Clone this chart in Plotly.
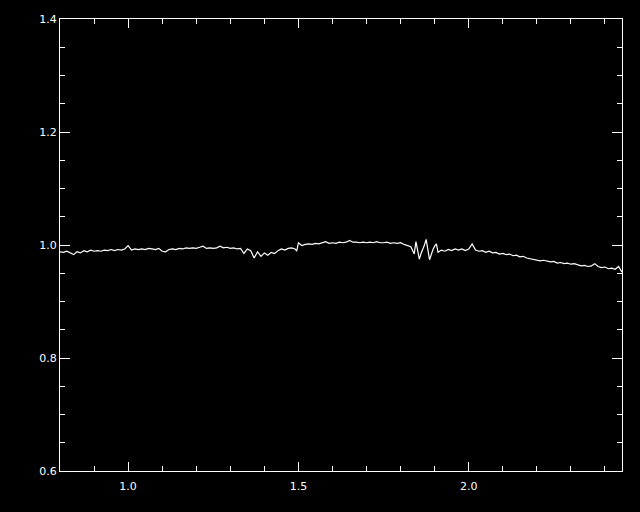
import plotly.graph_objects as go

wavelength = [
    0.80, 0.81, 0.82, 0.83, 0.84, 0.85, 0.86, 0.87, 0.88, 0.89,
    0.90, 0.91, 0.92, 0.93, 0.94, 0.95, 0.96, 0.97, 0.98, 0.99,
    1.00, 1.01, 1.02, 1.03, 1.04, 1.05, 1.06, 1.07, 1.08, 1.09,
    1.10, 1.11, 1.12, 1.13, 1.14, 1.15, 1.16, 1.17, 1.18, 1.19,
    1.20, 1.21, 1.22, 1.23, 1.24, 1.25, 1.26, 1.27, 1.28, 1.29,
    1.30, 1.31, 1.32, 1.33, 1.34, 1.35, 1.36, 1.37, 1.38, 1.39,
    1.40, 1.41, 1.42, 1.43, 1.44, 1.45, 1.46, 1.47, 1.48, 1.49,
    1.495, 1.50, 1.51, 1.52, 1.53, 1.54, 1.55, 1.56, 1.57, 1.58,
    1.59, 1.60, 1.61, 1.62, 1.63, 1.64, 1.65, 1.66, 1.67, 1.68,
    1.69, 1.70, 1.71, 1.72, 1.73, 1.74, 1.75, 1.76, 1.77, 1.78,
    1.79, 1.80, 1.81, 1.82, 1.83, 1.84, 1.845, 1.855, 1.86, 1.87,
    1.875, 1.885, 1.89, 1.895, 1.90, 1.905, 1.91, 1.92, 1.93, 1.94,
    1.95, 1.96, 1.97, 1.98, 1.99, 2.00, 2.01, 2.02, 2.03, 2.04,
    2.05, 2.06, 2.07, 2.08, 2.09, 2.10, 2.11, 2.12, 2.13, 2.14,
    2.15, 2.16, 2.17, 2.18, 2.19, 2.20, 2.21, 2.22, 2.23, 2.24,
    2.25, 2.26, 2.27, 2.28, 2.29, 2.30, 2.31, 2.32, 2.33, 2.34,
    2.35, 2.36, 2.37, 2.38, 2.39, 2.40, 2.41, 2.42, 2.43, 2.44,
    2.445, 2.45,
]

flux = [
    0.988, 0.987, 0.989, 0.986, 0.983, 0.988, 0.986, 0.990, 0.988, 0.991,
    0.989, 0.990, 0.989, 0.991, 0.990, 0.992, 0.990, 0.992, 0.991, 0.993,
    0.999, 0.991, 0.993, 0.992, 0.993, 0.992, 0.994, 0.993, 0.992, 0.994,
    0.989, 0.988, 0.992, 0.993, 0.992, 0.994, 0.993, 0.995, 0.994, 0.995,
    0.994, 0.996, 0.998, 0.994, 0.995, 0.994, 0.995, 0.998, 0.995, 0.996,
    0.994, 0.995, 0.993, 0.994, 0.985, 0.993, 0.990, 0.977, 0.988, 0.980,
    0.986, 0.982, 0.987, 0.985, 0.990, 0.993, 0.991, 0.994, 0.995, 0.993,
    0.989, 1.004, 0.999, 1.001, 1.002, 1.001, 1.003, 1.002, 1.004, 1.006,
    1.003, 1.004, 1.003, 1.005, 1.004, 1.005, 1.008, 1.005, 1.005, 1.004,
    1.005, 1.004, 1.005, 1.004, 1.006, 1.004, 1.004, 1.005, 1.003, 1.004,
    1.003, 1.004, 1.001, 0.999, 0.997, 0.984, 1.006, 0.975, 0.985, 1.000,
    1.010, 0.974, 0.985, 0.992, 0.998, 1.002, 0.987, 0.991, 0.989, 0.992,
    0.990, 0.993, 0.991, 0.993, 0.990, 0.993, 1.002, 0.991, 0.989, 0.990,
    0.987, 0.989, 0.986, 0.987, 0.984, 0.985, 0.983, 0.984, 0.981, 0.982,
    0.979, 0.980, 0.977, 0.976, 0.975, 0.974, 0.972, 0.973, 0.971, 0.970,
    0.971, 0.968, 0.969, 0.967, 0.968, 0.966, 0.967, 0.965, 0.963, 0.964,
    0.962, 0.963, 0.967, 0.962, 0.960, 0.961, 0.958, 0.959, 0.957, 0.962,
    0.958, 0.952,
]

x_ticks = [1.0, 1.5, 2.0]
x_tick_labels = ["1.0", "1.5", "2.0"]
y_ticks = [0.6, 0.8, 1.0, 1.2, 1.4]
y_tick_labels = ["0.6", "0.8", "1.0", "1.2", "1.4"]

fig = go.Figure()
fig.add_trace(go.Scatter(
    x=wavelength, y=flux, mode="lines",
    line=dict(color="white", width=1.2),
    showlegend=False, hoverinfo="skip",
))

axis_common = dict(
    showgrid=False, zeroline=False,
    showline=True, linecolor="white", linewidth=1,
    mirror="allticks", ticks="inside", tickcolor="white", tickwidth=1,
    tickfont=dict(family="DejaVu Sans", size=11, color="white"),
)

fig.update_xaxes(
    range=[0.8, 2.45], tickvals=x_ticks, ticktext=x_tick_labels, ticklen=9,
    ticklabelstandoff=5,
    minor=dict(dtick=0.1, tick0=0.8, ticks="inside", ticklen=5, tickcolor="white", tickwidth=1),
    **axis_common,
)
fig.update_yaxes(
    range=[0.6, 1.4], tickvals=y_ticks, ticktext=y_tick_labels, ticklen=10,
    minor=dict(dtick=0.05, tick0=0.6, ticks="inside", ticklen=5, tickcolor="white", tickwidth=1),
    **axis_common,
)

fig.update_layout(
    width=640, height=512,
    margin=dict(l=60, r=18, t=19, b=41),
    paper_bgcolor="black", plot_bgcolor="black",
)

fig.write_html(
    "out.html",
    config={"displayModeBar": False},
    post_script="document.body.style.margin='0';document.body.style.background='black';",
)
